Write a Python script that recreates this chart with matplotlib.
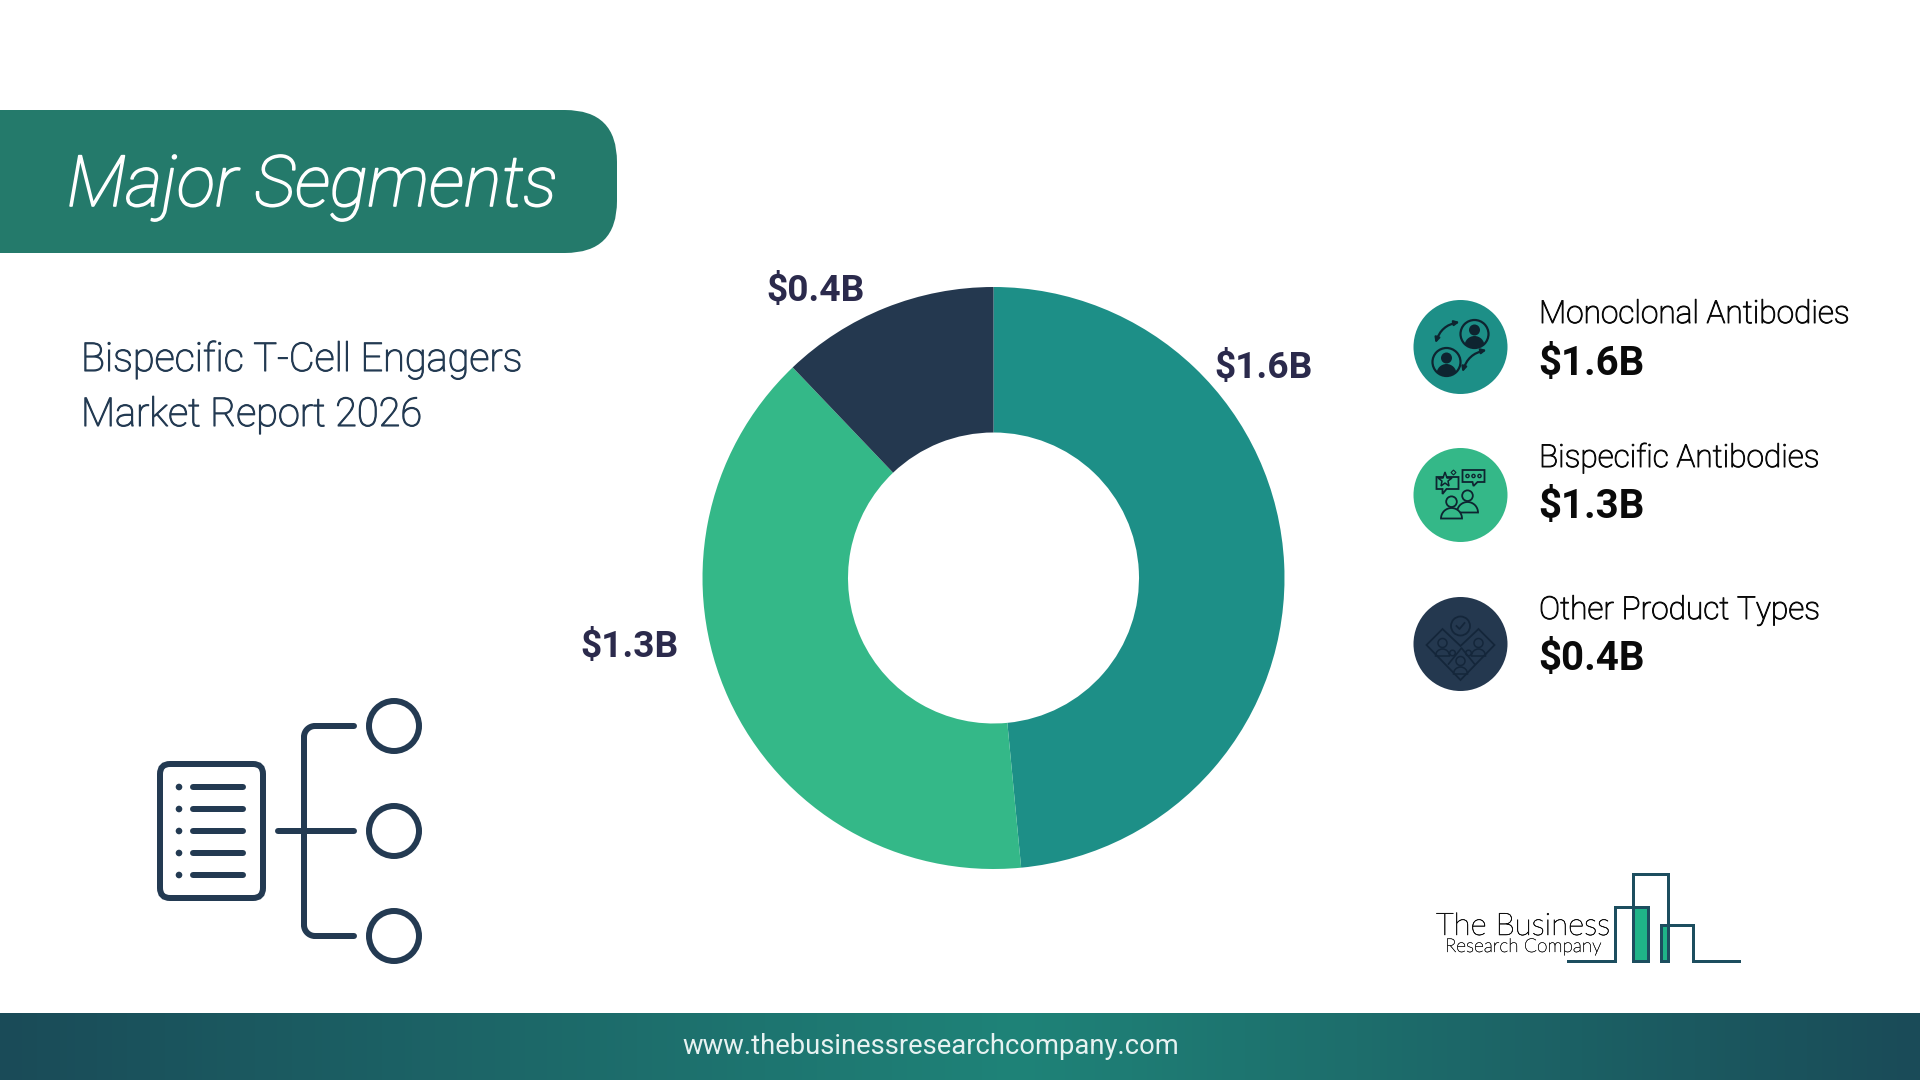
import numpy as np
import matplotlib
matplotlib.use('Agg')
import matplotlib.pyplot as plt
import matplotlib.patheffects as pe
from matplotlib.colors import LinearSegmentedColormap
from matplotlib.patches import Circle, FancyBboxPatch, FancyArrowPatch, Polygon, Rectangle, Wedge

categories = ['Monoclonal Antibodies', 'Bispecific Antibodies', 'Other Product Types']
values = [1.6, 1.3, 0.4]
colors = ['#1D8F87', '#34B888', '#24384F']
value_labels = ['$1.6B', '$1.3B', '$0.4B']

DARK = '#233A52'
LOGO = '#1D4E5F'
ICON = '#0E2430'
FONT = 'Roboto'


# Roboto Light with a hair of outline, the reference weight sits between light and regular
def thick(color, w=0.5):
    return [pe.withStroke(linewidth=w, foreground=color)]


fig = plt.figure(figsize=(19.2, 10.8), dpi=100, facecolor='white')

# whole-page axes in pixel coords, y going down
bg = fig.add_axes([0, 0, 1, 1])
bg.set_xlim(0, 1920)
bg.set_ylim(1080, 0)
bg.axis('off')

# header
bg.add_patch(FancyBboxPatch((-100, 110), 717, 143, boxstyle='round,pad=0,rounding_size=52',
                            fc='#247A6B', ec='none'))
bg.text(67, 206, 'Major Segments', color='white', fontsize=51, family=FONT,
        style='italic', weight='light', va='baseline', path_effects=thick('white', 1.2))

bg.text(81, 371, 'Bispecific T-Cell Engagers', color=DARK, fontsize=28.6, family=FONT,
        weight='light', va='baseline', path_effects=thick(DARK, 0.8))
bg.text(81, 426, 'Market Report 2026', color=DARK, fontsize=28.6, family=FONT,
        weight='light', va='baseline', path_effects=thick(DARK, 0.8))

# footer
footer_cmap = LinearSegmentedColormap.from_list(
    'footer', [(0, '#1A4B58'), (0.53, '#1F8378'), (1, '#1A4B58')])
bg.imshow(np.linspace(0, 1, 512).reshape(1, -1), cmap=footer_cmap, aspect='auto',
          extent=(0, 1920, 1080, 1013), zorder=1)
bg.set_xlim(0, 1920)
bg.set_ylim(1080, 0)
bg.text(931, 1054, 'www.thebusinessresearchcompany.com', color='#E6F2F1', fontsize=19.75,
        family=FONT, ha='center', va='baseline', zorder=2)


# left list icon
def stroke(xs, ys, lw=6, color=DARK, cap='round'):
    bg.plot(xs, ys, color=color, lw=lw * 0.72, solid_capstyle=cap, solid_joinstyle='round')


bg.add_patch(FancyBboxPatch((160, 764), 103, 134, boxstyle='round,pad=0,rounding_size=10',
                            fc='none', ec=DARK, lw=6 * 0.72))
for y in [787, 809, 831, 853, 875]:
    bg.add_patch(Circle((179, y), 3.3, fc=DARK, ec='none'))
    stroke([193, 243], [y, y])
stroke([278, 354], [831, 831])
t = np.linspace(0, np.pi / 2, 12)
stroke([354, 315], [726, 726])
stroke([304, 304], [737, 925])
stroke([315, 354], [936, 936])
stroke(304 + 11 * (1 - np.cos(t)), 737 - 11 * np.sin(t))
stroke(304 + 11 * (1 - np.cos(t)), 925 + 11 * np.sin(t))
for y in [726, 831, 936]:
    bg.add_patch(Circle((394, y), 25, fc='none', ec=DARK, lw=6 * 0.72))

# donut, pie axes sit on the pixel box of the ring
R = 291
cx, cy = 993.5, 578
ax = fig.add_axes([(cx - R) / 1920, 1 - (cy + R) / 1080, 2 * R / 1920, 2 * R / 1080])
ax.pie(values, colors=colors, startangle=90, counterclock=False, radius=1,
       wedgeprops=dict(width=0.5, edgecolor='none'))
ax.set_xlim(-1, 1)
ax.set_ylim(-1, 1)

label_pos = [(1264, 368), (629, 647), (816, 291)]
for lab, (x, y) in zip(value_labels, label_pos):
    bg.text(x, y, lab, color='#2B2A4C', fontsize=26.7, family=FONT, weight='bold',
            ha='center', va='center')

# right legend
rows_y = [347, 495, 644]
label_base = [323, 467, 619]
value_base = [375, 518, 670]
for i, name in enumerate(categories):
    bg.add_patch(Circle((1460.5, rows_y[i]), 47, fc=colors[i], ec='none'))
    bg.text(1539, label_base[i], name, color='#0A0A0A', fontsize=22.8, family=FONT,
            weight='light', va='baseline', path_effects=thick('#0A0A0A', 0.7))
    bg.text(1538, value_base[i], value_labels[i], color='#0A0A0A', fontsize=29, family=FONT,
            weight='bold', va='baseline')


def person(x, y, s, fc=ICON, color=ICON, lw=1.3):
    bg.add_patch(Circle((x, y - 0.45 * s), 0.38 * s, fc=fc, ec=color, lw=lw))
    bg.add_patch(Wedge((x, y + 0.75 * s), 0.75 * s, 180, 360, fc=fc, ec=color, lw=lw))


def arc_arrow(a, b, rad):
    bg.add_patch(FancyArrowPatch(a, b, arrowstyle='<|-|>', mutation_scale=7, lw=1.6,
                                 color=ICON, connectionstyle=f'arc3,rad={rad}', shrinkA=0, shrinkB=0))


# icon 1, people swapping
x0, y0 = 1460.5, 347
for dx, dy in [(14, -13), (-14, 15)]:
    ring = Circle((x0 + dx, y0 + dy), 14, fc='none', ec=ICON, lw=1.6)
    bg.add_patch(ring)
    bg.add_patch(Circle((x0 + dx, y0 + dy - 4), 5.5, fc=ICON, ec='none'))
    body = Circle((x0 + dx, y0 + dy + 12), 10, fc=ICON, ec='none')
    bg.add_patch(body)
    body.set_clip_path(ring)
arc_arrow((x0 - 25, y0 - 4), (x0 - 1, y0 - 25), -0.3)
arc_arrow((x0 + 2, y0 + 25), (x0 + 26, y0 + 3), -0.3)

# icon 2, people with speech bubbles
x0, y0 = 1460.5, 495
bg.add_patch(Polygon([(x0 + 2, y0 - 25), (x0 + 24, y0 - 25), (x0 + 24, y0 - 13), (x0 + 17, y0 - 13),
                      (x0 + 13, y0 - 9), (x0 + 12, y0 - 13), (x0 + 2, y0 - 13)],
                     fc='none', ec=ICON, lw=1.3))
for dx in [7, 13, 19]:
    bg.add_patch(Circle((x0 + dx, y0 - 19), 1.6, fc='none', ec=ICON, lw=1))
bg.add_patch(Polygon([(x0 - 24, y0 - 18), (x0 - 2, y0 - 18), (x0 - 2, y0 - 6), (x0 - 14, y0 - 6),
                      (x0 - 18, y0 - 1), (x0 - 18, y0 - 6), (x0 - 24, y0 - 6)],
                     fc='none', ec=ICON, lw=1.3))
bg.plot([x0 - 16], [y0 - 15], marker='*', ms=11, mfc='#34B888', mec=ICON, mew=1.1)
bg.plot([x0 - 8], [y0 - 23], marker='D', ms=2.5, mfc='none', mec=ICON, mew=0.8)
person(x0 + 7, y0 + 7, 14, fc='#34B888')
person(x0 - 9, y0 + 13, 14, fc='#34B888')

# icon 3, puzzle of people with a check badge
x0, y0 = 1460.5, 644
dark_line = '#14263A'
bg.add_patch(Polygon([(x0 - 34, y0 + 1), (x0 - 18, y0 - 15), (x0, y0 + 2), (x0 + 18, y0 - 15),
                      (x0 + 34, y0 + 1), (x0, y0 + 36)], fc='none', ec=dark_line, lw=1.3))
bg.plot([x0 - 12, x0 + 1, x0 + 14], [y0 + 20, y0 + 4, y0 + 20], color=dark_line, lw=1.2)
bg.add_patch(Circle((x0, y0 - 18), 9.5, fc='#24384F', ec=dark_line, lw=1.3))
bg.plot([x0 - 4, x0 - 1, x0 + 4], [y0 - 18, y0 - 15, y0 - 21], color=dark_line, lw=1.3)
for dx, dy in [(-18, -1), (18, -1), (0, 17)]:
    bg.add_patch(Circle((x0 + dx, y0 + dy), 4.5, fc='none', ec=dark_line, lw=1.1))
    bg.add_patch(Wedge((x0 + dx, y0 + dy + 13), 7, 180, 360, fc='none', ec=dark_line, lw=1.1))
for dx in [-8, 8]:
    bg.add_patch(Circle((x0 + dx, y0 + 9), 2.8, fc='none', ec=dark_line, lw=1.1))

# logo
bg.add_patch(Rectangle((1633, 907), 15, 54, fc='#1FB488', ec='none'))
bg.add_patch(Rectangle((1661, 925), 7, 36, fc='#1FB488', ec='none'))
logo_x = [1568, 1615, 1615, 1648, 1648, 1633, 1633, 1668, 1668, 1661, 1661, 1693, 1693, 1739]
logo_y = [961, 961, 907, 907, 961, 961, 874, 874, 961, 961, 925, 925, 961, 961]
bg.plot(logo_x, logo_y, color=LOGO, lw=3 * 0.72, solid_joinstyle='miter')
bg.text(1436, 935, 'The Business', color='#111111', fontsize=22.4, family='Lato', weight='light',
        va='baseline', path_effects=thick('#111111', 0.4))
bg.text(1445, 952, 'Research Company', color='#222222', fontsize=13.7, family='Lato', weight='light',
        va='baseline', path_effects=thick('#222222', 0.3))

fig.savefig('out.png', dpi=100, facecolor='white')
